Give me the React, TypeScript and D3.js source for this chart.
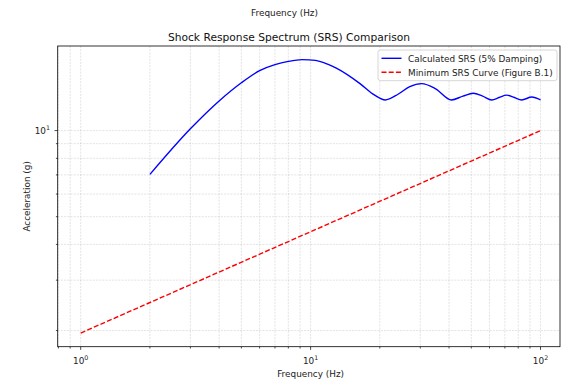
import React, { useEffect, useRef } from "react";
import * as d3 from "d3";

// calculated SRS (5% damping)
const srsFreq = [2.0, 3.0, 4.0, 5.0, 6.0, 7.0, 8.0, 9.2, 10.5, 12.0, 13.0, 16.4, 19.0, 21.1, 24.0, 27.0, 30.4, 35.0, 41.0, 46.0, 51.0, 56.0, 61.4, 66.0, 71.3, 77.0, 82.8, 91.6, 100];
const srsAccel = [7.03, 10.15, 12.7, 14.7, 16.2, 17.0, 17.45, 17.7, 17.6, 17.0, 16.5, 14.6, 13.3, 12.8, 13.4, 14.25, 14.6, 14.0, 12.8, 13.2, 13.5, 13.2, 12.8, 13.05, 13.3, 13.05, 12.8, 13.1, 12.8];

// minimum SRS curve (Figure B.1)
const minFreq = [1, 10, 100];
const minAccel = [1.96, 4.43, 10.0];

const legendLabels = ["Calculated SRS (5% Damping)", "Minimum SRS Curve (Figure B.1)"];
const seriesColors = ["#0000ff", "#ff0000"];

const W = 561;
const H = 380;
const font = "DejaVu Sans, sans-serif";

function App() {
  const ref = useRef<SVGSVGElement>(null);

  useEffect(() => {
    const svg = d3.select(ref.current);
    svg.selectAll("*").remove();

    const left = 57.7, top = 46, bottom = 346.7, frameRight = 560;
    const plotW = 505.8; // axis extends slightly past the cropped edge

    const xlo = Math.log10(d3.min(minFreq.concat(srsFreq))!);
    const xhi = Math.log10(d3.max(minFreq.concat(srsFreq))!);
    const xm = (xhi - xlo) * 0.05;
    const ylo = Math.log10(d3.min(minAccel.concat(srsAccel))!);
    const yhi = Math.log10(d3.max(minAccel.concat(srsAccel))!);
    const ym = (yhi - ylo) * 0.05;

    const x = d3.scaleLog().domain([10 ** (xlo - xm), 10 ** (xhi + xm)]).range([left, left + plotW]);
    const y = d3.scaleLog().domain([10 ** (ylo - ym), 10 ** (yhi + ym)]).range([bottom, top]);

    const isMajor = (v: number) => Math.abs(Math.log10(v) - Math.round(Math.log10(v))) < 1e-9;

    const xTicks = x.ticks().filter((v) => x(v) >= left - 0.5 && x(v) <= frameRight);
    const yTicks = y.ticks().filter((v) => y(v) >= top - 0.5 && y(v) <= bottom + 0.5);

    const g = svg.append("g");

    // grid
    g.selectAll(".gx").data(xTicks).enter().append("line")
      .attr("x1", (d) => x(d)).attr("x2", (d) => x(d))
      .attr("y1", top).attr("y2", bottom)
      .attr("stroke", "#b0b0b0").attr("stroke-opacity", 0.45)
      .attr("stroke-width", 0.8).attr("stroke-dasharray", "2,1.2");
    g.selectAll(".gy").data(yTicks).enter().append("line")
      .attr("x1", left).attr("x2", frameRight)
      .attr("y1", (d) => y(d)).attr("y2", (d) => y(d))
      .attr("stroke", "#b0b0b0").attr("stroke-opacity", 0.45)
      .attr("stroke-width", 0.8).attr("stroke-dasharray", "2,1.2");

    // lines
    const line = d3.line<[number, number]>()
      .x((d) => x(d[0])).y((d) => y(d[1]))
      .curve(d3.curveMonotoneX);

    g.append("path")
      .datum(srsFreq.map((f, i) => [f, srsAccel[i]] as [number, number]))
      .attr("d", line).attr("fill", "none")
      .attr("stroke", seriesColors[0]).attr("stroke-width", 1.4);

    g.append("path")
      .datum(minFreq.map((f, i) => [f, minAccel[i]] as [number, number]))
      .attr("d", line.curve(d3.curveLinear)).attr("fill", "none")
      .attr("stroke", seriesColors[1]).attr("stroke-width", 1.4)
      .attr("stroke-dasharray", "5,2.2");

    // frame
    g.append("rect")
      .attr("x", left).attr("y", top)
      .attr("width", frameRight - left).attr("height", bottom - top)
      .attr("fill", "none").attr("stroke", "#000").attr("stroke-width", 0.8);

    // ticks
    g.selectAll(".tx").data(xTicks).enter().append("line")
      .attr("x1", (d) => x(d)).attr("x2", (d) => x(d))
      .attr("y1", bottom).attr("y2", (d) => bottom + (isMajor(d) ? 3.2 : 1.8))
      .attr("stroke", "#000").attr("stroke-width", 0.7);
    g.selectAll(".ty").data(yTicks).enter().append("line")
      .attr("x1", left).attr("x2", (d) => left - (isMajor(d) ? 3.2 : 1.8))
      .attr("y1", (d) => y(d)).attr("y2", (d) => y(d))
      .attr("stroke", "#000").attr("stroke-width", 0.7);

    const pow = (sel: any, v: number) => {
      sel.append("tspan").text("10");
      sel.append("tspan").attr("dy", -4).attr("font-size", 6.3).text(String(Math.round(Math.log10(v))));
    };

    g.selectAll(".lx").data(xTicks.filter(isMajor)).enter().append("text")
      .attr("x", (d) => x(d)).attr("y", 364)
      .attr("text-anchor", "middle").attr("font-family", font).attr("font-size", 8.9)
      .attr("fill", "#222")
      .each(function (d) { pow(d3.select(this), d); });
    g.selectAll(".ly").data(yTicks.filter(isMajor)).enter().append("text")
      .attr("x", 50).attr("y", (d) => y(d) + 3.2)
      .attr("text-anchor", "end").attr("font-family", font).attr("font-size", 8.9)
      .attr("fill", "#222")
      .each(function (d) { pow(d3.select(this), d); });

    // labels
    g.append("text").attr("x", (left + left + plotW) / 2).attr("y", 376.5)
      .attr("text-anchor", "middle").attr("font-family", font).attr("font-size", 8.9)
      .attr("fill", "#222").text("Frequency (Hz)");
    g.append("text").attr("x", 284.5).attr("y", 16.3)
      .attr("text-anchor", "middle").attr("font-family", font).attr("font-size", 8.9)
      .attr("fill", "#222").text("Frequency (Hz)");
    g.append("text").attr("transform", `translate(29.5,${(top + bottom) / 2}) rotate(-90)`)
      .attr("text-anchor", "middle").attr("font-family", font).attr("font-size", 8.9)
      .attr("fill", "#222").text("Acceleration (g)");
    g.append("text").attr("x", 289).attr("y", 40.8)
      .attr("text-anchor", "middle").attr("font-family", font).attr("font-size", 10.7)
      .attr("fill", "#111").text("Shock Response Spectrum (SRS) Comparison");

    // legend
    const lg = g.append("g").attr("transform", "translate(378,50)");
    lg.append("rect").attr("width", 179).attr("height", 30.7).attr("rx", 2.5)
      .attr("fill", "#fff").attr("fill-opacity", 0.8)
      .attr("stroke", "#cccccc").attr("stroke-width", 0.8);
    legendLabels.forEach((lab, i) => {
      lg.append("line").attr("x1", 3.5).attr("x2", 23.5)
        .attr("y1", 8.3 + i * 14).attr("y2", 8.3 + i * 14)
        .attr("stroke", seriesColors[i]).attr("stroke-width", 1.4)
        .attr("stroke-dasharray", i === 1 ? "5,2.2" : null);
      lg.append("text").attr("x", 30).attr("y", 11.5 + i * 14)
        .attr("font-family", font).attr("font-size", 8.9).attr("fill", "#222")
        .text(lab);
    });
  }, []);

  return (
    <svg ref={ref} width={W} height={H}
      style={{ position: "absolute", left: 0, top: 0, background: "#fff" }} />
  );
}

export default App;
